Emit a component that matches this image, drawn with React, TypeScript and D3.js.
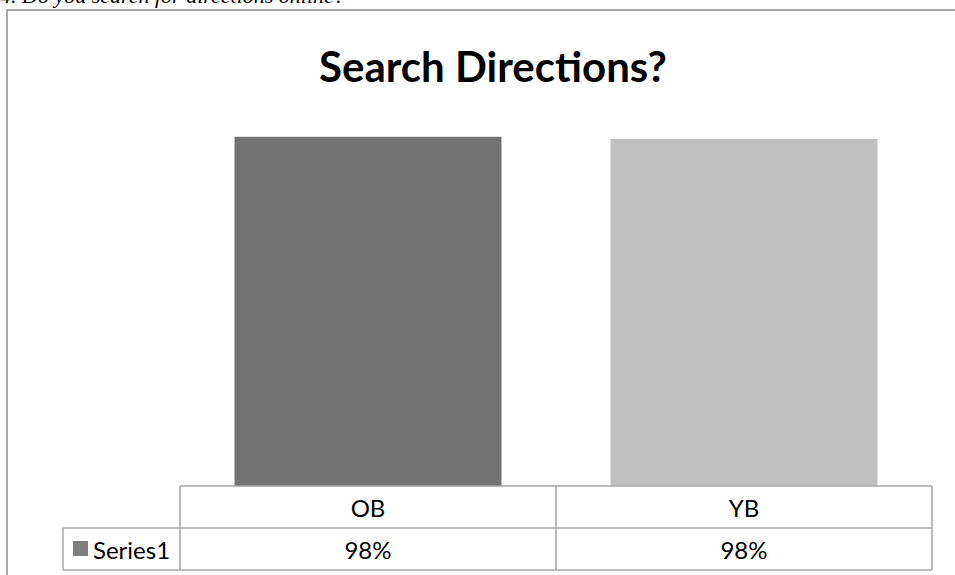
import React from 'react';
import * as d3 from 'd3';

const categories = ['OB', 'YB'];
const seriesName = 'Series1';
const values = [0.981, 0.975];
const valueLabels = ['98%', '98%'];
const barColors = ['#737373', '#c0c0c0'];
const chartTitle = 'Search Directions?';
const questionText = '4. Do you search for directions online?';

export default function App() {
  const W = 955, H = 575;
  const plotLeft = 180, plotRight = 932;
  const baseY = 486, rowH = 42;
  const x = d3.scaleBand<string>().domain(categories).range([plotLeft, plotRight]).paddingInner(0.29).paddingOuter(0.145);
  const y = d3.scaleLinear().domain([0, 1]).range([baseY, 130]);
  const grid = '#a6a6a6';
  const font = 'Lato, "Open Sans", sans-serif';
  const legendLeft = 63;
  return (
    <svg width={W} height={H} style={{ position: 'absolute', left: 0, top: 0, background: '#fff' }}>
      <text x={0} y={3} fontFamily='"Liberation Serif", serif' fontStyle="italic" fontSize={22} fill="#000">{questionText}</text>
      <rect x={7} y={10} width={960} height={580} fill="none" stroke="#8d8d8d" strokeWidth={1.5} />
      <text x={493} y={82} textAnchor="middle" fontFamily={font} fontWeight="bold" fontSize={42} fill="#000">{chartTitle}</text>
      {categories.map((c, i) => (
        <rect key={c} x={x(c)} y={y(values[i])} width={x.bandwidth()} height={baseY - y(values[i])} fill={barColors[i]} />
      ))}
      <g stroke={grid} strokeWidth={1.5} fill="none">
        <line x1={plotLeft} x2={plotRight} y1={baseY} y2={baseY} />
        <line x1={legendLeft} x2={plotRight} y1={baseY + rowH} y2={baseY + rowH} />
        <line x1={legendLeft} x2={plotRight} y1={baseY + 2 * rowH} y2={baseY + 2 * rowH} />
        <line x1={legendLeft} x2={legendLeft} y1={baseY + rowH} y2={baseY + 2 * rowH} />
        {[plotLeft, ...categories.map(c => (x(c) as number) + x.bandwidth() / 2 + x.step() / 2)].map((xx, i) => (
          <line key={i} x1={xx} x2={xx} y1={baseY} y2={baseY + 2 * rowH} />
        ))}
      </g>
      {categories.map((c, i) => (
        <g key={c} fontFamily={font} fontSize={24} fill="#000" textAnchor="middle">
          <text x={(x(c) as number) + x.bandwidth() / 2} y={baseY + 31}>{c}</text>
          <text x={(x(c) as number) + x.bandwidth() / 2} y={baseY + rowH + 31}>{valueLabels[i]}</text>
        </g>
      ))}
      <rect x={73} y={541} width={15} height={15} fill="#7f7f7f" />
      <text x={93} y={baseY + rowH + 31} fontFamily={font} fontSize={24} fill="#000">{seriesName}</text>
    </svg>
  );
}
